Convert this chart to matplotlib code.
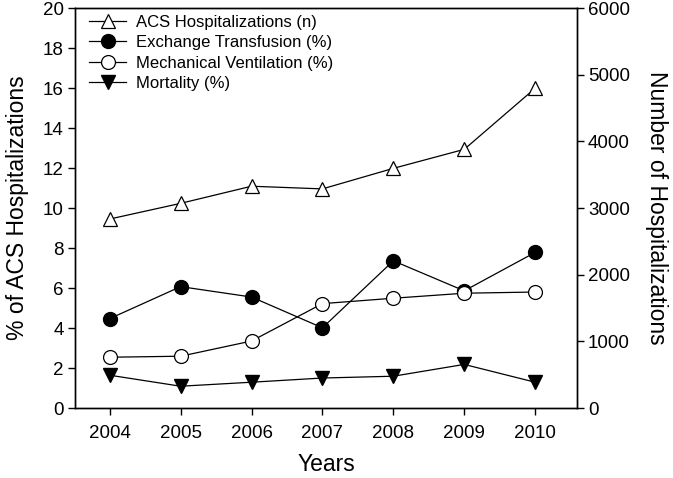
import matplotlib
matplotlib.use("Agg")
import matplotlib.pyplot as plt

plt.rcParams['font.family'] = ['Liberation Sans', 'DejaVu Sans']

years = [2004, 2005, 2006, 2007, 2008, 2009, 2010]
acs_hosp = [2835, 3070, 3327, 3287, 3595, 3880, 4796]
exchange = [4.47, 6.07, 5.55, 4.01, 7.36, 5.86, 7.78]
mech_vent = [2.54, 2.59, 3.35, 5.22, 5.49, 5.74, 5.80]
mortality = [1.64, 1.09, 1.29, 1.50, 1.59, 2.18, 1.29]

fig = plt.figure(figsize=(6.73, 4.78), dpi=100)
ax = fig.add_axes([0.1114, 0.1464, 0.7459, 0.8368])
ax2 = ax.twinx()

lw = 0.9
ms = 10
l1, = ax2.plot(years, acs_hosp, color='black', lw=lw, marker='^', ms=ms,
               mfc='white', mec='black', mew=0.9, label='ACS Hospitalizations (n)')
l2, = ax.plot(years, exchange, color='black', lw=lw, marker='o', ms=ms,
              mfc='black', mec='black', label='Exchange Transfusion (%)')
l3, = ax.plot(years, mech_vent, color='black', lw=lw, marker='o', ms=ms,
              mfc='white', mec='black', mew=0.9, label='Mechanical Ventilation (%)')
l4, = ax.plot(years, mortality, color='black', lw=lw, marker='v', ms=ms,
              mfc='black', mec='black', label='Mortality (%)')

ax.set_xlim(2003.51, 2010.59)
ax.set_ylim(0, 20)
ax2.set_ylim(0, 6000)
ax.set_xticks(years)
ax.set_yticks(range(0, 21, 2))
ax2.set_yticks(range(0, 6001, 1000))

for a in (ax, ax2):
    for s in a.spines.values():
        s.set_linewidth(1.0)
ax.tick_params(axis='x', direction='out', length=5, width=1, labelsize=13.5, pad=7)
ax.tick_params(axis='y', direction='out', length=5, width=1, labelsize=13.5, pad=3)
ax2.tick_params(axis='y', direction='out', length=5, width=1, labelsize=13.5, pad=3)

ax.set_xlabel('Years', fontsize=16.5, labelpad=8)
ax.set_ylabel('% of ACS Hospitalizations', fontsize=16.5, labelpad=10)
ax2.set_ylabel('Number of Hospitalizations', fontsize=16.5, rotation=270, labelpad=27)

ax.legend(handles=[l1, l2, l3, l4], loc='upper left', frameon=False,
          fontsize=12, handlelength=2.2, handletextpad=0.6, labelspacing=0.33,
          borderaxespad=0.0, bbox_to_anchor=(0.015, 1.0))

fig.savefig('out.png', dpi=100)
